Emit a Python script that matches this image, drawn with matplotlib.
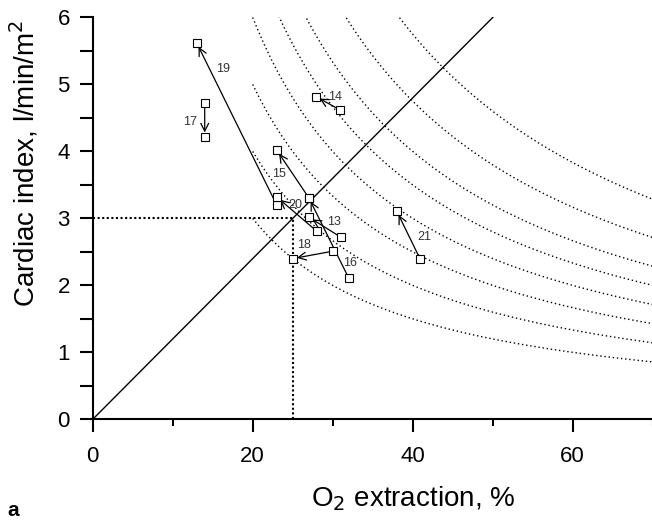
import matplotlib
matplotlib.use('Agg')
import matplotlib.pyplot as plt
import numpy as np

plt.rcParams['font.family'] = ['Liberation Sans', 'DejaVu Sans']

# patients: arrow from first to second measurement
labels = ['13', '14', '15', '16', '17', '18', '19', '20', '21']
er_from = [31.0, 30.9, 27.0, 32.0, 14.0, 30.0, 23.0, 28.0, 40.9]
ci_from = [2.72, 4.62, 3.31, 2.11, 4.73, 2.51, 3.20, 2.81, 2.40]
er_to = [27.0, 27.9, 23.0, 27.0, 14.0, 25.0, 13.0, 23.0, 38.0]
ci_to = [3.02, 4.82, 4.02, 3.31, 4.22, 2.40, 5.62, 3.32, 3.11]
label_er = [30.2, 30.3, 23.3, 32.2, 12.2, 26.45, 16.35, 25.3, 41.45]
label_ci = [2.95, 4.82, 3.66, 2.33, 4.44, 2.60, 5.23, 3.20, 2.72]

# iso-VO2 levels (CI * O2ER = const)
iso_levels = [60, 80, 100, 120, 140, 160, 190, 230]
iso_start = 20

# normal reference values
ref_er = 25
ref_ci = 3

fig = plt.figure(figsize=(6.52, 5.22), dpi=100)
# the original x axis runs to 80, the figure is cut at 70
ax = fig.add_axes([0.1422, 0.1967, 640 / 652, 0.9665 - 0.1967])

er = np.linspace(iso_start, 80, 500)
for k in iso_levels:
    ci = k / er
    ci = np.where(ci <= 6.05, ci, np.nan)
    ax.plot(er, ci, color='black', lw=1.0, ls=(0, (1, 2)))

ax.plot([0, ref_er * 2], [0, ref_ci * 2], color='black', lw=1.0)

ax.plot([0, ref_er], [ref_ci, ref_ci], color='black', lw=1.5, ls=(0, (1, 1.2)))
ax.plot([ref_er, ref_er], [0, ref_ci], color='black', lw=1.5, ls=(0, (1, 1.2)))

for i in range(len(labels)):
    ax.annotate('', xy=(er_to[i], ci_to[i]), xytext=(er_from[i], ci_from[i]),
                arrowprops=dict(arrowstyle='->', lw=0.9, color='black',
                                shrinkA=0, shrinkB=3, mutation_scale=14),
                zorder=2)
    ax.text(label_er[i], label_ci[i], labels[i], fontsize=9, color='#333333',
            ha='center', va='center')

ax.plot(er_from + er_to, ci_from + ci_to, 's', mfc='white', mec='black',
        ms=6.3, mew=0.8, zorder=3, clip_on=False)

ax.set_xlim(0, 80)
ax.set_ylim(0, 6)
ax.spines['top'].set_visible(False)
ax.spines['right'].set_visible(False)
ax.spines['left'].set_linewidth(1.5)
ax.spines['bottom'].set_linewidth(1.5)

ax.set_xticks([0, 20, 40, 60])
ax.set_xticks([10, 30, 50, 70], minor=True)
ax.set_yticks(range(7))
ax.set_yticks(np.arange(0.5, 6, 1.0), minor=True)
ax.tick_params(which='major', length=9.5, width=1.5, labelsize=16)
ax.tick_params(axis='x', which='major', pad=10)
ax.tick_params(axis='y', which='major', pad=7)
ax.tick_params(axis='x', which='minor', length=5, width=1.5)
ax.tick_params(axis='y', which='minor', length=9.5, width=1.5)

ax.set_xlabel('O$_2$ extraction, %', fontsize=20, labelpad=12)
ax.set_ylabel('Cardiac index, l/min/m$^2$', fontsize=20, ha='right')
ax.yaxis.set_label_coords(-0.081, 0.994)

fig.text(0.012, 0.012, 'a', fontsize=15, fontweight='bold')

fig.savefig('out.png', dpi=100)
